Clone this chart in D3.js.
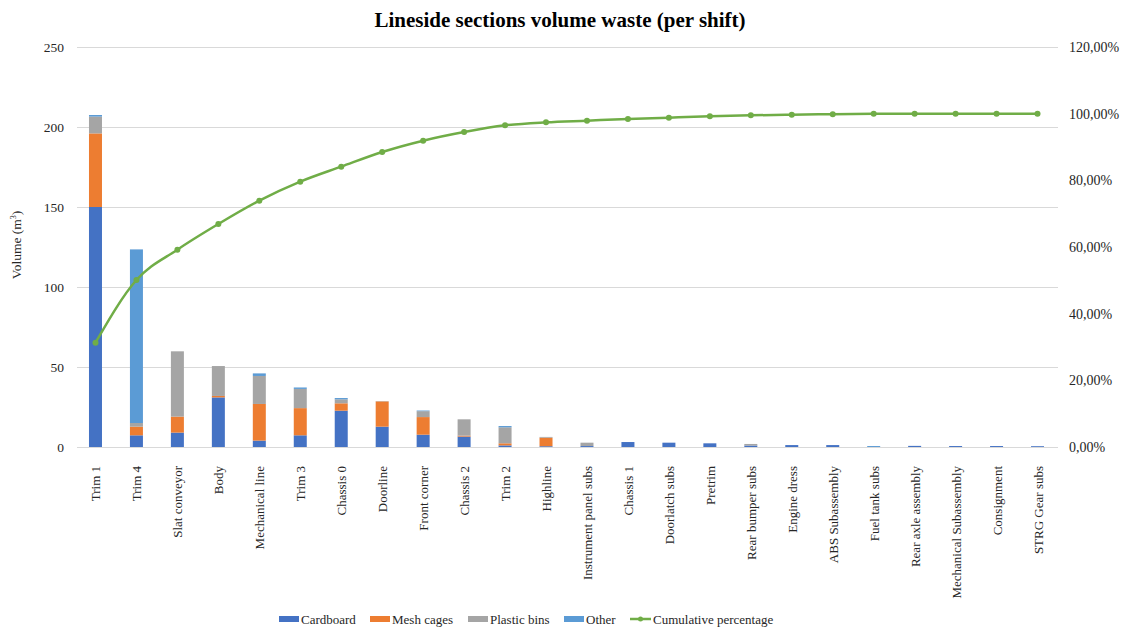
<!DOCTYPE html>
<html>
<head>
<meta charset="utf-8">
<script src="https://cdn.jsdelivr.net/npm/d3@7/dist/d3.min.js"></script>
<style>
  html, body { margin: 0; padding: 0; background: #fff; }
  svg { display: block; font-family: "Liberation Serif", "Times New Roman", serif; }
</style>
</head>
<body>
<svg id="chart" width="1127" height="630"></svg>
<script>
// Lineside sections, in Pareto order
const sections = [
  "Trim 1", "Trim 4", "Slat conveyor", "Body", "Mechanical line", "Trim 3",
  "Chassis 0", "Doorline", "Front corner", "Chassis 2", "Trim 2", "Highline",
  "Instrument panel subs", "Chassis 1", "Doorlatch subs", "Pretrim",
  "Rear bumper subs", "Engine dress", "ABS Subassembly", "Fuel tank subs",
  "Rear axle assembly", "Mechanical Subassembly", "Consignment", "STRG Gear subs"
];

// Volume per shift (m³) by packaging type
const cardboard   = [150, 7.3, 9, 31, 4, 7.3, 22.7, 12.7, 7.7, 6.5, 1, 0.5, 0.6, 3.1, 2.7, 2.3, 0.9, 1.2, 1.2, 0, 0.7, 0.6, 0.6, 0.5];
const meshCages   = [46, 5.4, 10, 0.9, 22.9, 17, 4.6, 15.8, 11, 0.6, 1.3, 5.3, 0, 0, 0, 0, 0, 0, 0, 0, 0, 0, 0, 0];
const plasticBins = [10.5, 2.3, 40.8, 18.7, 17.5, 12, 2.5, 0.2, 3.7, 10.2, 10, 0.5, 2.1, 0, 0, 0, 1.0, 0, 0, 0, 0, 0, 0, 0];
const other       = [1, 108.5, 0, 0, 1.6, 0.9, 0.8, 0, 0.4, 0, 0.8, 0, 0, 0, 0, 0, 0, 0, 0, 0.6, 0, 0, 0, 0];

// Cumulative share of total volume (%)
const cumulative = [31.3, 50.1, 59.2, 66.9, 73.9, 79.6, 84.1, 88.5, 91.9, 94.5, 96.5, 97.4, 97.9, 98.4, 98.8, 99.2, 99.5, 99.7, 99.85, 99.95, 100, 100, 100, 100];

// Axis ticks
const volumeTicks = [0, 50, 100, 150, 200, 250];
const percentTicks = [0, 20, 40, 60, 80, 100, 120];

const seriesNames = ["Cardboard", "Mesh cages", "Plastic bins", "Other"];
const seriesColors = ["#4472C4", "#ED7D31", "#A5A5A5", "#5B9BD5"];
const lineColor = "#70AD47";
const textColor = "#262626";

const rows = sections.map((s, i) => ({
  section: s,
  "Cardboard": cardboard[i],
  "Mesh cages": meshCages[i],
  "Plastic bins": plasticBins[i],
  "Other": other[i]
}));

const svg = d3.select("#chart");

const plotLeft = 75, plotRight = 1058, plotTop = 47, plotBottom = 447;

const x = d3.scaleBand().domain(sections).range([plotLeft, plotRight]).padding(0);
const y = d3.scaleLinear().domain([0, 250]).range([plotBottom, plotTop]);
const yPct = d3.scaleLinear().domain([0, 120]).range([plotBottom, plotTop]);

// Title
svg.append("text")
  .attr("x", 560).attr("y", 27)
  .attr("text-anchor", "middle")
  .attr("font-size", 21).attr("font-weight", "bold")
  .attr("fill", "#000")
  .text("Lineside sections volume waste (per shift)");

// Horizontal gridlines
svg.append("g")
  .selectAll("line")
  .data(volumeTicks)
  .join("line")
  .attr("x1", plotLeft + 2).attr("x2", plotRight)
  .attr("y1", d => Math.round(y(d)) + 0.5)
  .attr("y2", d => Math.round(y(d)) + 0.5)
  .attr("stroke", "#D9D9D9").attr("stroke-width", 1);

// Left axis
const yAxis = d3.axisLeft(y).tickValues(volumeTicks).tickSize(0).tickPadding(0);
const gLeft = svg.append("g").attr("transform", `translate(${plotLeft - 11},0)`).call(yAxis);
gLeft.select(".domain").remove();
gLeft.selectAll("text")
  .attr("font-family", "Liberation Serif, serif")
  .attr("font-size", 13.5).attr("fill", textColor);

// Right axis
const fmtPct = v => v.toFixed(2).replace(".", ",") + "%";
const yAxisR = d3.axisRight(yPct).tickValues(percentTicks).tickSize(0).tickPadding(0).tickFormat(fmtPct);
const gRight = svg.append("g").attr("transform", `translate(${plotRight + 11},0)`).call(yAxisR);
gRight.select(".domain").remove();
gRight.selectAll("text")
  .attr("font-family", "Liberation Serif, serif")
  .attr("font-size", 14).attr("fill", textColor);

// Left axis title
svg.append("text")
  .attr("transform", "translate(21,245) rotate(-90)")
  .attr("text-anchor", "middle")
  .attr("font-size", 13.5).attr("fill", textColor)
  .call(t => {
    t.append("tspan").text("Volume  (m");
    t.append("tspan").attr("font-size", 8).attr("dy", -5).text("3");
    t.append("tspan").attr("dy", 5).text(")");
  });

// Stacked bars
const stack = d3.stack().keys(seriesNames);
const layers = stack(rows);
const barW = 13;

svg.append("g")
  .selectAll("g")
  .data(layers)
  .join("g")
  .attr("fill", (d, i) => seriesColors[i])
  .selectAll("rect")
  .data(d => d)
  .join("rect")
  .attr("x", d => x(d.data.section) + x.bandwidth() / 2 - barW / 2)
  .attr("width", barW)
  .attr("y", d => y(d[1]))
  .attr("height", d => Math.max(0, y(d[0]) - y(d[1])));

// X axis labels
const xAxis = d3.axisBottom(x).tickSize(0).tickPadding(0);
const gX = svg.append("g").attr("transform", `translate(0,${plotBottom})`).call(xAxis);
gX.select(".domain").remove();
gX.selectAll("text")
  .attr("font-family", "Liberation Serif, serif")
  .attr("font-size", 13).attr("fill", textColor)
  .attr("text-anchor", "end")
  .attr("dy", null)
  .attr("transform", "translate(5,19) rotate(-90)");

// Cumulative percentage line
const line = d3.line()
  .x((d, i) => x(sections[i]) + x.bandwidth() / 2)
  .y(d => yPct(d))
  .curve(d3.curveMonotoneX);

svg.append("path")
  .datum(cumulative)
  .attr("d", line)
  .attr("fill", "none")
  .attr("stroke", lineColor)
  .attr("stroke-width", 2.5);

svg.append("g")
  .selectAll("circle")
  .data(cumulative)
  .join("circle")
  .attr("cx", (d, i) => x(sections[i]) + x.bandwidth() / 2)
  .attr("cy", d => yPct(d))
  .attr("r", 3)
  .attr("fill", lineColor);

// Legend
const legendY = 619;
const legendItems = [
  { name: "Cardboard", color: seriesColors[0], x: 279, type: "bar" },
  { name: "Mesh cages", color: seriesColors[1], x: 370, type: "bar" },
  { name: "Plastic bins", color: seriesColors[2], x: 468, type: "bar" },
  { name: "Other", color: seriesColors[3], x: 564, type: "bar" },
  { name: "Cumulative percentage", color: lineColor, x: 630, type: "line" }
];
const lg = svg.append("g")
  .selectAll("g")
  .data(legendItems)
  .join("g")
  .attr("transform", d => `translate(${d.x},${legendY})`);

lg.filter(d => d.type === "bar")
  .append("rect")
  .attr("x", 0).attr("y", -3).attr("width", 20).attr("height", 6)
  .attr("fill", d => d.color);

const lineItems = lg.filter(d => d.type === "line");
lineItems.append("line")
  .attr("x1", 0).attr("x2", 21).attr("y1", 0).attr("y2", 0)
  .attr("stroke", d => d.color).attr("stroke-width", 2.5);
lineItems.append("circle")
  .attr("cx", 10.5).attr("cy", 0).attr("r", 2.5)
  .attr("fill", d => d.color);

lg.append("text")
  .attr("x", d => d.type === "line" ? 23 : 22)
  .attr("y", 4.5)
  .attr("font-size", 13).attr("fill", textColor)
  .text(d => d.name);
</script>
</body>
</html>
